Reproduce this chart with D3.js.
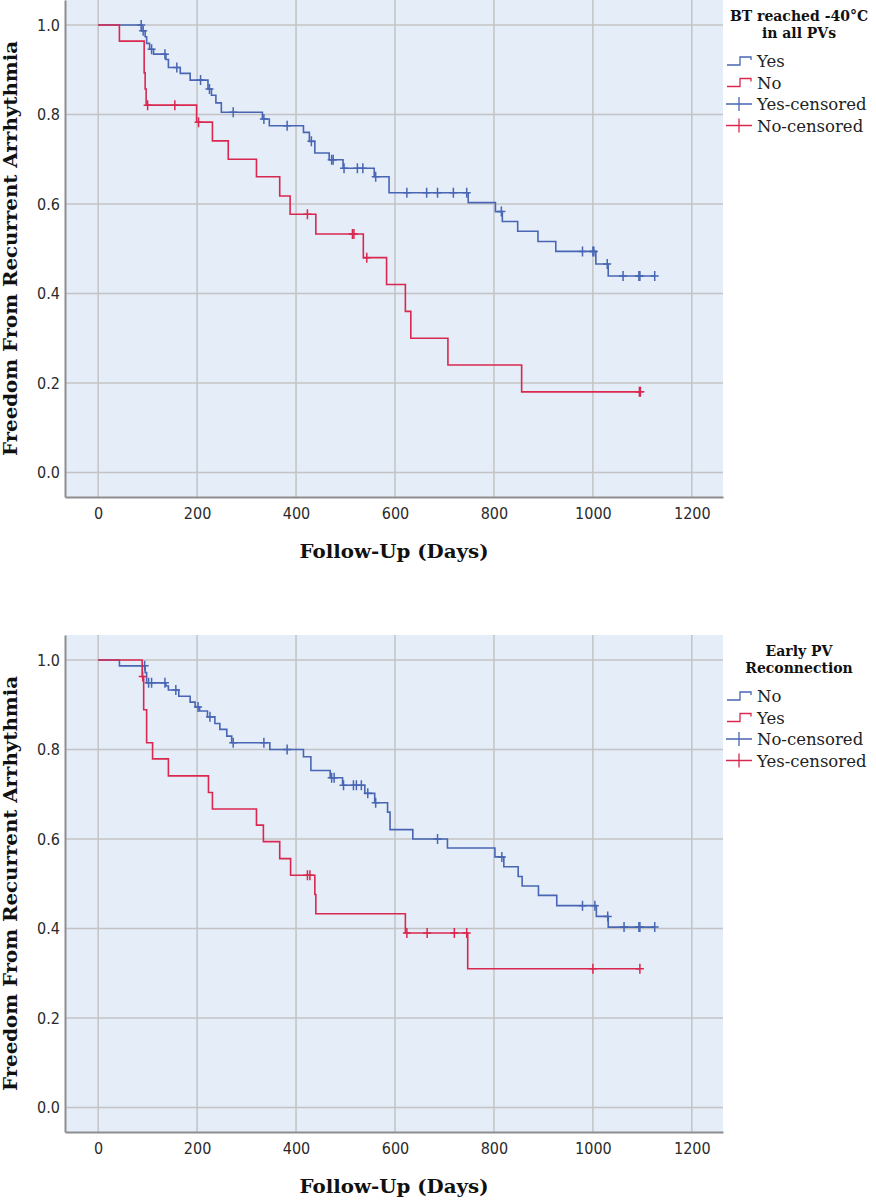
<!DOCTYPE html>
<html>
<head>
<meta charset="utf-8">
<script src="https://cdn.jsdelivr.net/npm/d3@7"></script>
<style>
  html, body { margin: 0; padding: 0; background: #ffffff; }
  svg { display: block; }
</style>
</head>
<body>
<svg id="chart" width="876" height="1200"></svg>
<script>
// ---------------- DATA ----------------
const xTicks = [0, 200, 400, 600, 800, 1000, 1200];
const yTicks = [0.0, 0.2, 0.4, 0.6, 0.8, 1.0];
const xTitle = "Follow-Up (Days)";
const yTitle = "Freedom From Recurrent Arrhythmia";

// Panel 1: BT reached -40°C in all PVs
const p1Title = ["BT reached -40°C", "in all PVs"];
const p1Labels = ["Yes", "No", "Yes-censored", "No-censored"];
const p1YesEventDays = [88, 95, 98, 104, 112, 137, 142, 166, 186, 222, 229, 238, 249, 332, 346, 415, 427, 438, 467, 495, 558, 588, 748, 803, 817, 848, 889, 925, 1006, 1031];
const p1YesEventSurv = [0.987, 0.974, 0.959, 0.946, 0.935, 0.923, 0.905, 0.892, 0.877, 0.857, 0.843, 0.826, 0.805, 0.790, 0.775, 0.760, 0.740, 0.714, 0.699, 0.680, 0.661, 0.625, 0.603, 0.583, 0.561, 0.539, 0.516, 0.494, 0.466, 0.439];
const p1YesCensorDays = [87, 91, 108, 135, 159, 207, 225, 273, 335, 382, 431, 472, 475, 497, 524, 535, 561, 624, 664, 686, 718, 745, 815, 979, 1000, 1002, 1029, 1061, 1093, 1095, 1125];
const p1NoEventDays = [43, 93, 95, 97, 199, 231, 263, 320, 367, 388, 440, 536, 583, 621, 632, 707, 856];
const p1NoEventSurv = [0.964, 0.893, 0.857, 0.821, 0.783, 0.741, 0.700, 0.661, 0.618, 0.577, 0.533, 0.480, 0.420, 0.360, 0.300, 0.240, 0.180];
const p1NoCensorDays = [100, 155, 203, 423, 514, 517, 543, 1094, 1096];

// Panel 2: Early PV Reconnection
const p2Title = ["Early PV", "Reconnection"];
const p2Labels = ["No", "Yes", "No-censored", "Yes-censored"];
const p2NoEventDays = [43, 95, 98, 137, 142, 163, 186, 196, 205, 221, 236, 246, 260, 270, 347, 415, 430, 469, 494, 539, 559, 585, 590, 636, 706, 802, 820, 849, 857, 890, 927, 1007, 1031];
const p2NoEventSurv = [0.987, 0.972, 0.949, 0.942, 0.933, 0.919, 0.906, 0.895, 0.886, 0.873, 0.858, 0.845, 0.830, 0.815, 0.800, 0.784, 0.753, 0.737, 0.720, 0.702, 0.681, 0.660, 0.621, 0.600, 0.580, 0.560, 0.538, 0.516, 0.495, 0.474, 0.451, 0.427, 0.403];
const p2NoCensorDays = [94, 102, 108, 135, 157, 202, 226, 273, 335, 382, 472, 477, 496, 516, 522, 532, 545, 561, 686, 816, 979, 1004, 1030, 1063, 1093, 1095, 1125];
const p2YesEventDays = [89, 92, 98, 110, 142, 223, 231, 320, 334, 367, 389, 438, 440, 621, 747];
const p2YesEventSurv = [0.963, 0.889, 0.815, 0.779, 0.741, 0.704, 0.667, 0.631, 0.594, 0.556, 0.519, 0.476, 0.433, 0.390, 0.310];
const p2YesCensorDays = [90, 423, 428, 624, 665, 720, 745, 1000, 1095];

// ---------------- STYLE / LAYOUT ----------------
const BLUE = "#4866b3";
const RED = "#d9284f";
const BG = "#e5edf8";
const GRID = "#c3c3c3";
const AXIS = "#8e8e8e";
const tickFont = "'Liberation Sans Narrow', 'DejaVu Sans Condensed', 'Arial Narrow', sans-serif";
const serif = "'DejaVu Serif', 'Liberation Serif', serif";

const plotL = 65, plotR = 723, plotH = 497;
const panels = [
  { offset: 0, title: p1Title, labels: p1Labels,
    series: [
      { days: p1YesEventDays, surv: p1YesEventSurv, cens: p1YesCensorDays, color: BLUE },
      { days: p1NoEventDays, surv: p1NoEventSurv, cens: p1NoCensorDays, color: RED }
    ] },
  { offset: 635, title: p2Title, labels: p2Labels,
    series: [
      { days: p2NoEventDays, surv: p2NoEventSurv, cens: p2NoCensorDays, color: BLUE },
      { days: p2YesEventDays, surv: p2YesEventSurv, cens: p2YesCensorDays, color: RED }
    ] }
];

const x = d3.scaleLinear().domain([-67, 1263]).range([plotL, plotR]);
const y = d3.scaleLinear().domain([-0.055, 1.056]).range([plotH, 0]);

const svg = d3.select("#chart");

function survAt(s, day) {
  let v = 1;
  for (let i = 0; i < s.days.length; i++) if (s.days[i] <= day) v = s.surv[i];
  return v;
}

panels.forEach(p => {
  const g = svg.append("g").attr("transform", `translate(0,${p.offset})`);

  g.append("rect").attr("x", plotL).attr("y", 0)
    .attr("width", plotR - plotL).attr("height", plotH).attr("fill", BG);

  // grid
  g.selectAll(".vg").data(xTicks).enter().append("line")
    .attr("x1", d => x(d)).attr("x2", d => x(d)).attr("y1", 0).attr("y2", plotH)
    .attr("stroke", GRID).attr("stroke-width", 1.5);
  g.selectAll(".hg").data(yTicks).enter().append("line")
    .attr("x1", plotL).attr("x2", plotR).attr("y1", d => y(d)).attr("y2", d => y(d))
    .attr("stroke", GRID).attr("stroke-width", 1.5);

  // axes
  const yAxis = g.append("g").attr("transform", `translate(${plotL},0)`)
    .call(d3.axisLeft(y).tickValues(yTicks).tickFormat(d3.format(".1f")).tickSize(0).tickPadding(5));
  const xAxis = g.append("g").attr("transform", `translate(0,${plotH})`)
    .call(d3.axisBottom(x).tickValues(xTicks).tickFormat(d3.format("d")).tickSize(0).tickPadding(11));
  [yAxis, xAxis].forEach(a => {
    a.select(".domain").attr("stroke", AXIS).attr("stroke-width", 2);
    a.selectAll("text").attr("font-family", tickFont).attr("font-size", 16).attr("fill", "#2a2a2a");
  });

  // curves
  p.series.forEach(s => {
    const lastDay = Math.max(d3.max(s.days), d3.max(s.cens));
    const pts = [[0, 1]].concat(s.days.map((d, i) => [d, s.surv[i]]));
    pts.push([lastDay, survAt(s, lastDay)]);
    const line = d3.line().x(d => x(d[0])).y(d => y(d[1])).curve(d3.curveStepAfter);
    g.append("path").attr("d", line(pts)).attr("fill", "none")
      .attr("stroke", s.color).attr("stroke-width", 1.6);
    g.selectAll(null).data(s.cens).enter().append("path")
      .attr("d", d => {
        const cx = x(d), cy = y(survAt(s, d));
        return `M${cx - 4},${cy}H${cx + 4}M${cx},${cy - 5}V${cy + 5}`;
      })
      .attr("stroke", s.color).attr("stroke-width", 1.5).attr("fill", "none");
  });

  // axis titles
  g.append("text").attr("x", (plotL + plotR) / 2).attr("y", 558)
    .attr("text-anchor", "middle").attr("font-family", serif).attr("font-weight", "bold")
    .attr("font-size", 18).attr("fill", "#111")
    .attr("textLength", 189).attr("lengthAdjust", "spacingAndGlyphs")
    .text(xTitle);
  g.append("text").attr("transform", `translate(17,${plotH / 2}) rotate(-90)`)
    .attr("text-anchor", "middle").attr("font-family", serif).attr("font-weight", "bold")
    .attr("font-size", 18).attr("fill", "#111")
    .attr("textLength", 415).attr("lengthAdjust", "spacingAndGlyphs")
    .text(yTitle);

  // legend
  const lg = g.append("g");
  p.title.forEach((t, i) => {
    lg.append("text").attr("x", 799).attr("y", 21 + i * 17)
      .attr("text-anchor", "middle").attr("font-family", serif).attr("font-weight", "bold")
      .attr("font-size", 14).attr("fill", "#111").text(t);
  });
  const colors = [BLUE, RED, BLUE, RED];
  p.labels.forEach((lab, i) => {
    const cy = 61 + i * 21.5;
    if (i < 2) {
      lg.append("path").attr("d", `M727,${cy + 4}H740V${cy - 4}H751V${cy - 1}`)
        .attr("stroke", colors[i]).attr("stroke-width", 1.3).attr("fill", "none");
    } else {
      lg.append("path").attr("d", `M726,${cy}H752M739,${cy - 7}V${cy + 7}`)
        .attr("stroke", colors[i]).attr("stroke-width", 1.3).attr("fill", "none");
    }
    lg.append("text").attr("x", 757).attr("y", cy + 6)
      .attr("font-family", serif).attr("font-size", 16.5).attr("fill", "#222").text(lab);
  });
});
</script>
</body>
</html>
